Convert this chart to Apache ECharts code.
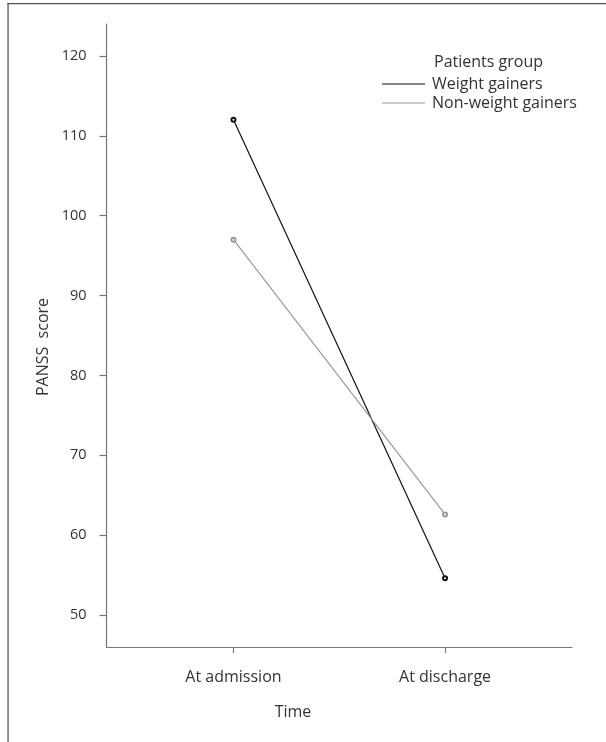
<!DOCTYPE html>
<html><head><meta charset="utf-8">
<script src="https://cdn.jsdelivr.net/npm/echarts@6/dist/echarts.min.js"></script>
<style>html,body{margin:0;padding:0;background:#fff;overflow:hidden}#c{width:606px;height:742px}</style>
</head><body><div id="c"></div>
<script>
const categories = ['At admission', 'At discharge'];
const timePoints = [1, 2];
const weightGainers = [112, 54.6];
const nonWeightGainers = [97, 62.6];
const yTicks = [50, 60, 70, 80, 90, 100, 110, 120];
const seriesNames = ['Weight gainers', 'Non-weight gainers'];

const FONT = 'Open Sans';
const TXT = 16;
const chart = echarts.init(document.getElementById('c'), null, {renderer: 'canvas'});
chart.setOption({
  animation: false,
  backgroundColor: '#fff',
  textStyle: {fontFamily: FONT},
  grid: {left: 106.5, right: 34, top: 24, bottom: 95},
  title: {
    text: 'Patients group', left: 429, top: 49,
    textStyle: {fontFamily: FONT, fontSize: TXT, fontWeight: 'normal', color: '#333'}
  },
  legend: {
    orient: 'vertical', left: 377, top: 70,
    icon: 'rect', itemWidth: 43, itemHeight: 1.2, itemGap: 1,
    textStyle: {fontFamily: FONT, fontSize: TXT, color: '#333', lineHeight: 18, padding: [0, 0, 0, 2]},
    data: seriesNames
  },
  xAxis: {
    type: 'value', min: 0.4, max: 2.6,
    axisLine: {show: true, lineStyle: {color: '#777', width: 1.2}},
    axisTick: {show: true, length: 6, lineStyle: {color: '#777', width: 1.2}, customValues: timePoints},
    axisLabel: {margin: 22, fontSize: TXT, color: '#333', customValues: timePoints,
      formatter: v => categories[timePoints.indexOf(v)] || ''},
    splitLine: {show: false}
  },
  yAxis: {
    type: 'value', min: 46, max: 124,
    axisLine: {show: true, lineStyle: {color: '#777', width: 1.2}},
    axisTick: {show: true, length: 7, lineStyle: {color: '#777', width: 1.2}, customValues: yTicks},
    axisLabel: {margin: 20, fontSize: 14.5, color: '#333', customValues: yTicks},
    splitLine: {show: false}
  },
  graphic: {
    elements: [
      {type: 'rect', z: 100, silent: true, shape: {x: 7.4, y: 2.9, width: 600, height: 1.4}, style: {fill: '#555'}},
      {type: 'rect', z: 100, silent: true, shape: {x: 7.4, y: 2.9, width: 1.3, height: 740}, style: {fill: '#555'}},
      {type: 'text', x: 293, y: 712, style: {text: 'Time', fontFamily: FONT, fontSize: TXT, fill: '#333', align: 'center', verticalAlign: 'middle'}},
      {type: 'text', x: 43, y: 347, rotation: Math.PI / 2, style: {text: 'PANSS  score', fontFamily: FONT, fontSize: TXT, fill: '#333', align: 'center', verticalAlign: 'middle'}}
    ]
  },
  series: [
    {name: seriesNames[0], type: 'line', color: '#111',
     data: timePoints.map((t, i) => [t, weightGainers[i]]),
     symbol: 'emptyCircle', symbolSize: 4, lineStyle: {width: 1.2, color: '#111'}, itemStyle: {color: '#111', borderWidth: 1}},
    {name: seriesNames[1], type: 'line', color: '#999',
     data: timePoints.map((t, i) => [t, nonWeightGainers[i]]),
     symbol: 'emptyCircle', symbolSize: 4, lineStyle: {width: 1.2, color: '#999'}, itemStyle: {color: '#999', borderWidth: 1}}
  ]
});
</script></body></html>
